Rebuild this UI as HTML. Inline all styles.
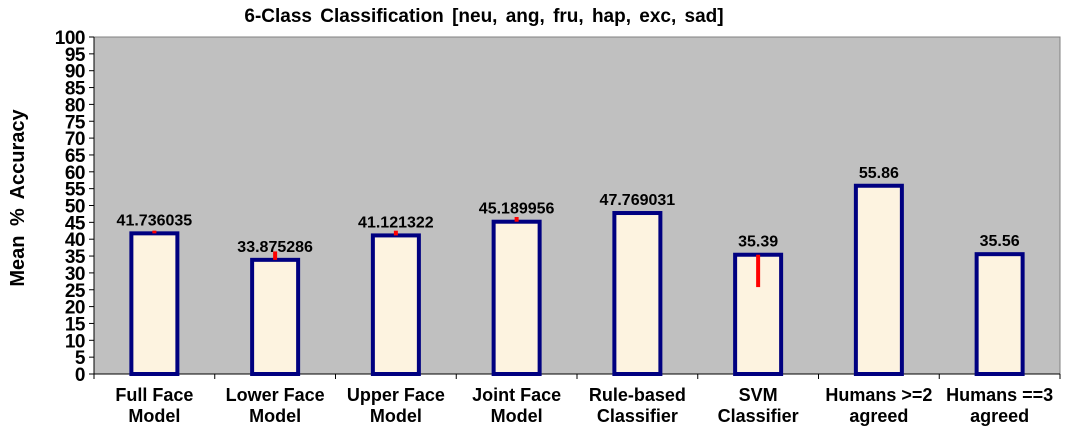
<!DOCTYPE html>
<html><head><meta charset="utf-8"><style>
body{margin:0;background:#fff;width:1067px;height:436px;overflow:hidden}
svg{display:block;font-family:"Liberation Sans",Arial,sans-serif;font-weight:bold}
</style></head><body>
<svg id="chart" width="1067" height="436">
<text x="484" y="22" font-size="19" text-anchor="middle" word-spacing="3">6-Class Classification  [neu, ang, fru, hap, exc, sad]</text>
<text transform="translate(24,198) rotate(-90)" font-size="20" text-anchor="middle" word-spacing="4">Mean % Accuracy</text>
</svg>
<script>
const categories=[["Full Face","Model"],["Lower Face","Model"],["Upper Face","Model"],["Joint Face","Model"],["Rule-based","Classifier"],["SVM","Classifier"],["Humans >=2","agreed"],["Humans ==3","agreed"]];
const values=[41.736035,33.875286,41.121322,45.189956,47.769031,35.39,55.86,35.56];
const valueLabels=["41.736035","33.875286","41.121322","45.189956","47.769031","35.39","55.86","35.56"];
const errUp=[0.8,2.5,1.4,1.4,0,0,0,0];
const errDown=[0,0,0,0,0,9.6,0,0];
const yTicks=[0,5,10,15,20,25,30,35,40,45,50,55,60,65,70,75,80,85,90,95,100];
const L=94,R=1060,T=37,B=374;
const n=categories.length,bw=(R-L)/n;
const y=v=>B-(v/100)*(B-T);
const xc=i=>L+bw*(i+0.5);
const s=document.getElementById('chart');
const NS='http://www.w3.org/2000/svg';
function mk(t,a,p){const e=document.createElementNS(NS,t);for(const k in a)e.setAttribute(k,a[k]);(p||s).appendChild(e);return e;}
const bg=mk('rect',{x:L,y:T,width:R-L,height:B-T,fill:'#c0c0c0',stroke:'#808080','stroke-width':1});


const ax=mk('line',{x1:L,y1:T,x2:L,y2:B,stroke:'#000','stroke-width':1});


const xa=mk('line',{x1:L,y1:B,x2:R,y2:B,stroke:'#000','stroke-width':1});


yTicks.forEach(v=>{
  mk('line',{x1:L-5,y1:y(v),x2:L,y2:y(v),stroke:'#000'});
  const t=mk('text',{x:L-9,y:y(v)+7,'font-size':19,'text-anchor':'end','letter-spacing':'-0.5'});
  t.textContent=v;
  
  
});
for(let i=0;i<=n;i++)mk('line',{x1:L+bw*i,y1:B,x2:L+bw*i,y2:B+5,stroke:'#000'});
values.forEach((v,i)=>{
  const cx=xc(i),w=46;
  const r=mk('rect',{x:cx-w/2,y:y(v),width:w,height:B-y(v),fill:'#fdf3e0',stroke:'#000080','stroke-width':4});
  
  
  if(errUp[i]>0||errDown[i]>0){
    const e=mk('line',{x1:cx,y1:y(v+errUp[i]),x2:cx,y2:y(v-errDown[i]),stroke:'#ff0000','stroke-width':4});
    
    
  }
  const t=mk('text',{x:cx,y:y(v)-8,'font-size':16,'text-anchor':'middle'});
  t.textContent=valueLabels[i];
  
  
  categories[i].forEach((ln,j)=>{
    const c=mk('text',{x:cx,y:401+j*21,'font-size':18,'text-anchor':'middle'});
    c.textContent=ln;
    
    
  });
});
</script>
</body></html>
